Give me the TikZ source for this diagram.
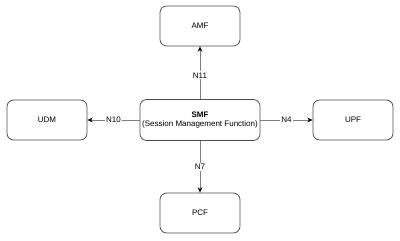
\documentclass[tikz,border=0pt]{standalone}
\usepackage{fontspec}
\setmainfont{Liberation Sans}
\usetikzlibrary{arrows.meta}
\definecolor{edge}{HTML}{808080}
\definecolor{boxline}{HTML}{4D4D4D}
\begin{document}
\begin{tikzpicture}[x=0.75pt,y=-0.75pt,
  nf/.style={draw=boxline,line width=0.6pt,rounded corners=5pt,fill=white,minimum width=60pt,minimum height=30pt,inner sep=0pt,font=\fontsize{6}{7.2}\selectfont,align=center},
  link/.style={draw=edge,line width=0.6pt,-{Stealth[length=4pt,width=3.5pt,color=black]}},
  lab/.style={fill=white,inner sep=1pt,font=\fontsize{6}{7.2}\selectfont}]
\useasboundingbox (0,0) rectangle (400,241);
\node[nf,minimum width=90pt,minimum height=30.75pt] (smf) at (200,120) {\textbf{SMF}\\(Session Management Function)};
\node[nf] (amf) at (200,26) {AMF};
\node[nf] (pcf) at (200,213) {PCF};
\node[nf] (udm) at (47,120) {UDM};
\node[nf] (upf) at (353,120) {UPF};
\draw[link] (smf) -- node[lab,pos=0.45]{N11} (amf);
\draw[link] (smf) -- node[lab,pos=0.5]{N7} (pcf);
\draw[link] (smf) -- node[lab,pos=0.5]{N10} (udm);
\draw[link] (smf) -- node[lab,pos=0.5]{N4} (upf);
\end{tikzpicture}
\end{document}
